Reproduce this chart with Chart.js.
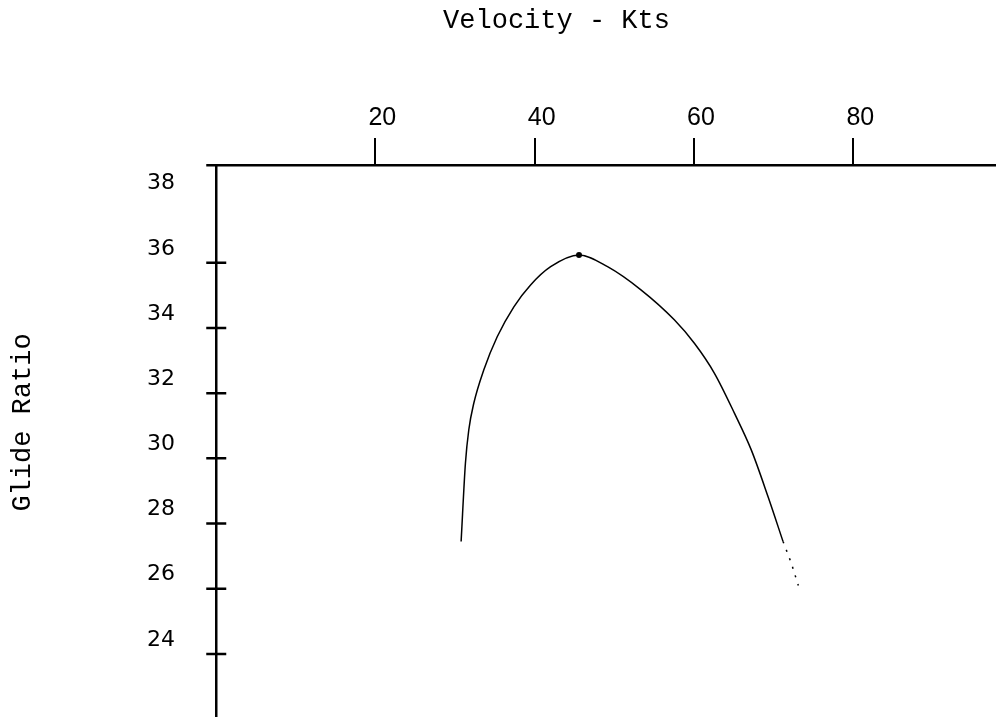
<!DOCTYPE html>
<html>
<head>
<meta charset="utf-8">
<title>Glide Ratio</title>
<script src="https://cdn.jsdelivr.net/npm/chart.js@4/dist/chart.umd.min.js"></script>
<style>
  html, body { margin: 0; padding: 0; background: #fff; overflow: hidden; }
  canvas { display: block; background: #fff; }
</style>
</head>
<body>
<canvas id="glide" width="1113" height="717"></canvas>
<script>
// data (velocity in kts, glide ratio)
const velocity   = [30.77, 31.31, 31.73, 32.36, 33.61, 35.30, 37.39, 39.49, 42.01, 45.57, 49.15, 53.34, 57.53, 60.05, 62.57, 65.09, 67.19, 69.29, 71.18];
const glideRatio = [27.45, 29.85, 30.87, 31.69, 32.71, 33.73, 34.65, 35.32, 35.88, 36.24, 35.88, 35.17, 34.25, 33.53, 32.61, 31.38, 30.26, 28.83, 27.45];

// dotted tail after the solid curve stops
const tailVelocity = [71.18, 72.2, 73.1];
const tailRatio    = [27.45, 26.8, 26.1];

// marked point at the top of the curve
const peakIndex = 9;

// axis ticks
const xTicks = [20, 40, 60, 80];
const yTicks = [38, 36, 34, 32, 30, 28, 26, 24];
const yCross = [36, 34, 32, 30, 28, 26, 24];

// axis lines running past the plot area, and the crossbars on the vertical axis
const axisMarks = {
    id: 'axisMarks',
    afterDraw(chart) {
        const { ctx, scales: { x, y } } = chart;
        const w = 2.5;
        const ax = Math.round(x.left - w / 2) + w / 2;
        const ay = Math.round(y.top - w / 2) + w / 2;
        ctx.save();
        ctx.strokeStyle = '#000';
        ctx.lineWidth = w;
        ctx.beginPath();
        ctx.moveTo(ax - 10, ay);
        ctx.lineTo(x.right, ay);
        ctx.moveTo(ax, ay);
        ctx.lineTo(ax, chart.height);
        yCross.forEach(v => {
            const py = y.getPixelForValue(v);
            ctx.moveTo(ax - 10, py);
            ctx.lineTo(ax + 10, py);
        });
        ctx.stroke();
        ctx.restore();
    }
};

const ctx = document.getElementById('glide').getContext('2d');
new Chart(ctx, {
    type: 'line',
    data: {
        datasets: [{
            data: velocity.map((v, i) => ({ x: v, y: glideRatio[i] })),
            borderColor: '#000',
            borderWidth: 1.5,
            cubicInterpolationMode: 'monotone',
            pointRadius: c => (c.dataIndex === peakIndex ? 3 : 0),
            pointBackgroundColor: '#000',
            pointBorderWidth: 0,
            fill: false
        }, {
            data: tailVelocity.map((v, i) => ({ x: v, y: tailRatio[i] })),
            borderColor: '#000',
            borderWidth: 1.5,
            borderDash: [2, 7],
            pointRadius: 0,
            fill: false
        }]
    },
    options: {
        responsive: false,
        animation: false,
        devicePixelRatio: 1,
        layout: { padding: { bottom: 37 } },
        plugins: {
            legend: { display: false },
            tooltip: { enabled: false },
            title: {
                display: true,
                text: 'Velocity - Kts',
                color: '#000',
                font: { family: 'Liberation Mono', size: 27, weight: 'normal' },
                padding: { top: 5, bottom: 0 }
            }
        },
        scales: {
            x: {
                type: 'linear',
                position: 'top',
                min: 0,
                max: 112.6,
                afterBuildTicks: s => { s.ticks = xTicks.map(v => ({ value: v })); },
                afterFit: s => { s.height = 127.6; },
                grid: { display: true, drawOnChartArea: false, drawTicks: true, tickLength: 27, color: '#000', lineWidth: 2 },
                border: { display: false },
                ticks: {
                    padding: 5,
                    labelOffset: 7,
                    maxRotation: 0,
                    autoSkip: false,
                    color: '#000',
                    font: { family: 'Liberation Sans', size: 25 }
                }
            },
            y: {
                type: 'linear',
                min: 23.2,
                max: 39,
                afterBuildTicks: s => { s.ticks = yTicks.map(v => ({ value: v })); },
                afterFit: s => { s.width = 216; },
                grid: { display: true, drawOnChartArea: false, drawTicks: true, tickLength: 41, tickColor: 'transparent' },
                border: { display: false },
                ticks: {
                    padding: 0,
                    labelOffset: -14,
                    color: '#000',
                    font: { family: 'DejaVu Sans', size: 22 }
                },
                title: {
                    display: true,
                    text: 'Glide Ratio',
                    color: '#000',
                    font: { family: 'Liberation Mono', size: 27, weight: 'normal' },
                    padding: { top: 7, bottom: 0 }
                }
            }
        }
    },
    plugins: [axisMarks]
});
</script>
</body>
</html>
